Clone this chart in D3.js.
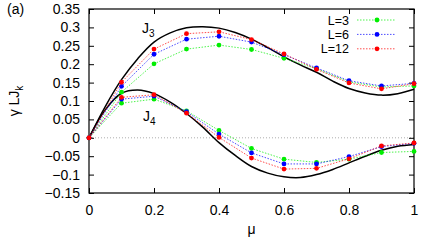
<!DOCTYPE html>
<html>
<head>
<meta charset="utf-8">
<script src="https://cdn.jsdelivr.net/npm/d3@7"></script>
<style>
  body { margin: 0; background: #fff; }
  svg text { font-family: "Liberation Sans", Arial, sans-serif; }
</style>
</head>
<body>
<svg id="chart" width="436" height="242"></svg>
<script>
// values
let muPoints = [0, 0.1, 0.2, 0.3, 0.4, 0.5, 0.6, 0.7, 0.8, 0.9, 1];
let j3L3 = [0, 0.124, 0.201, 0.241, 0.252, 0.240, 0.216, 0.188, 0.152, 0.138, 0.141];
let j3L6 = [0, 0.140, 0.227, 0.268, 0.276, 0.260, 0.226, 0.190, 0.155, 0.141, 0.148];
let j3L12 = [0, 0.151, 0.241, 0.283, 0.288, 0.267, 0.228, 0.186, 0.149, 0.133, 0.147];
let j4L3 = [0, 0.094, 0.105, 0.073, 0.020, -0.029, -0.058, -0.067, -0.058, -0.040, -0.037];
let j4L6 = [0, 0.105, 0.113, 0.071, 0.010, -0.041, -0.071, -0.071, -0.051, -0.024, -0.015];
let j4L12 = [0, 0.110, 0.117, 0.067, 0.001, -0.055, -0.085, -0.083, -0.057, -0.022, -0.014];

// exact curves (solid black), sampled every 0.05
let muCurve = [0, 0.05, 0.1, 0.15, 0.2, 0.25, 0.3, 0.35, 0.4, 0.45, 0.5, 0.55, 0.6, 0.65, 0.7, 0.75, 0.8, 0.85, 0.9, 0.95, 1];
let j3Exact = [0, 0.085, 0.158, 0.215, 0.260, 0.285, 0.299, 0.302, 0.298, 0.286, 0.268, 0.245, 0.220, 0.198, 0.178, 0.154, 0.134, 0.122, 0.116, 0.120, 0.132];
let j4Exact = [0, 0.076, 0.121, 0.130, 0.120, 0.097, 0.066, 0.029, -0.013, -0.048, -0.078, -0.096, -0.106, -0.108, -0.100, -0.086, -0.068, -0.050, -0.034, -0.023, -0.018];

let xTicks = [0, 0.2, 0.4, 0.6, 0.8, 1];
let yTicks = [-0.15, -0.1, -0.05, 0, 0.05, 0.1, 0.15, 0.2, 0.25, 0.3, 0.35];

let seriesNames = ["L=3", "L=6", "L=12"];
let seriesColors = ["#00ee00", "#0000ff", "#ff0000"];
let j3Series = [j3L3, j3L6, j3L12];
let j4Series = [j4L3, j4L6, j4L12];

const plotLeft = 89, plotRight = 414, plotTop = 9, plotBottom = 193;

let svg = d3.select("#chart");
let x = d3.scaleLinear().domain([0, 1]).range([plotLeft, plotRight]);
let y = d3.scaleLinear().domain([-0.15, 0.35]).range([plotBottom, plotTop]);

// zero line
svg.append("line")
  .attr("x1", x(0)).attr("x2", x(1))
  .attr("y1", y(0)).attr("y2", y(0))
  .attr("stroke", "#999").attr("stroke-width", 0.8)
  .attr("stroke-dasharray", "1,2");

// ticks on all four sides, pointing in
let tickLen = 5;
let axisB = svg.append("g").attr("transform", `translate(0,${plotBottom})`)
  .call(d3.axisBottom(x).tickValues(xTicks).tickSize(-tickLen).tickPadding(12)
    .tickFormat(d => d3.format("")(d)));
let axisT = svg.append("g").attr("transform", `translate(0,${plotTop})`)
  .call(d3.axisTop(x).tickValues(xTicks).tickSize(-tickLen).tickFormat(""));
let axisL = svg.append("g").attr("transform", `translate(${plotLeft},0)`)
  .call(d3.axisLeft(y).tickValues(yTicks).tickSize(-tickLen).tickPadding(9)
    .tickFormat(d => d3.format("")(+d.toFixed(2))));
let axisR = svg.append("g").attr("transform", `translate(${plotRight},0)`)
  .call(d3.axisRight(y).tickValues(yTicks).tickSize(-tickLen).tickFormat(""));

[axisB, axisT, axisL, axisR].forEach(a => {
  a.select(".domain").remove();
  a.selectAll("line").attr("stroke", "#000");
  a.selectAll("text").attr("font-size", 14).attr("fill", "#000")
    .attr("font-family", "Liberation Sans, Arial, sans-serif");
});
axisB.selectAll("text").attr("dy", "0.71em");

// frame
svg.append("rect")
  .attr("x", plotLeft).attr("y", plotTop)
  .attr("width", plotRight - plotLeft).attr("height", plotBottom - plotTop)
  .attr("fill", "none").attr("stroke", "#000").attr("stroke-width", 1.2);

// exact curves
let curveLine = d3.line()
  .x((d, i) => x(muCurve[i]))
  .y(d => y(d))
  .curve(d3.curveCatmullRom.alpha(0.5));

[j3Exact, j4Exact].forEach(vals => {
  svg.append("path")
    .attr("d", curveLine(vals))
    .attr("fill", "none")
    .attr("stroke", "#000")
    .attr("stroke-width", 1.5);
});

// finite-size data
let pointLine = d3.line()
  .x((d, i) => x(muPoints[i]))
  .y(d => y(d));

for (let s = 0; s < seriesNames.length; s++) {
  let color = seriesColors[s];
  [j3Series[s], j4Series[s]].forEach(vals => {
    svg.append("path")
      .attr("d", pointLine(vals))
      .attr("fill", "none")
      .attr("stroke", color)
      .attr("stroke-width", 1)
      .attr("stroke-opacity", 0.7)
      .attr("stroke-dasharray", "1.5,1.5");
    svg.selectAll(null)
      .data(vals)
      .enter()
      .append("circle")
      .attr("cx", (d, i) => x(muPoints[i]))
      .attr("cy", d => y(d))
      .attr("r", 2.4)
      .attr("fill", color);
  });
}

// legend
let legend = svg.append("g");
seriesNames.forEach((name, i) => {
  let ly = 20 + i * 14.4;
  legend.append("text")
    .attr("x", 349).attr("y", ly).attr("dy", "0.36em")
    .attr("text-anchor", "end").attr("font-size", 12.5)
    .text(name);
  legend.append("line")
    .attr("x1", 357).attr("x2", 396).attr("y1", ly).attr("y2", ly)
    .attr("stroke", seriesColors[i]).attr("stroke-width", 1)
    .attr("stroke-opacity", 0.7).attr("stroke-dasharray", "1.5,1.5");
  legend.append("circle")
    .attr("cx", 377).attr("cy", ly).attr("r", 2.4)
    .attr("fill", seriesColors[i]);
});

// curve labels
let j3Label = svg.append("text").attr("x", 142).attr("y", 33).attr("font-size", 14);
j3Label.append("tspan").text("J");
j3Label.append("tspan").attr("font-size", 10).attr("dy", 4).text("3");
let j4Label = svg.append("text").attr("x", 143).attr("y", 121).attr("font-size", 14);
j4Label.append("tspan").text("J");
j4Label.append("tspan").attr("font-size", 10).attr("dy", 4).text("4");

// axis titles
svg.append("text")
  .attr("x", x(0.5)).attr("y", 234)
  .attr("text-anchor", "middle").attr("font-size", 14)
  .text("μ");
let yTitle = svg.append("text")
  .attr("transform", `translate(19,${(plotTop + plotBottom) / 2}) rotate(-90)`)
  .attr("text-anchor", "middle").attr("font-size", 14);
yTitle.append("tspan").text("γ LJ");
yTitle.append("tspan").attr("font-size", 10).attr("dy", 4).text("k");

// panel label
svg.append("text").attr("x", 7).attr("y", 14).attr("font-size", 14).text("(a)");
</script>
</body>
</html>
